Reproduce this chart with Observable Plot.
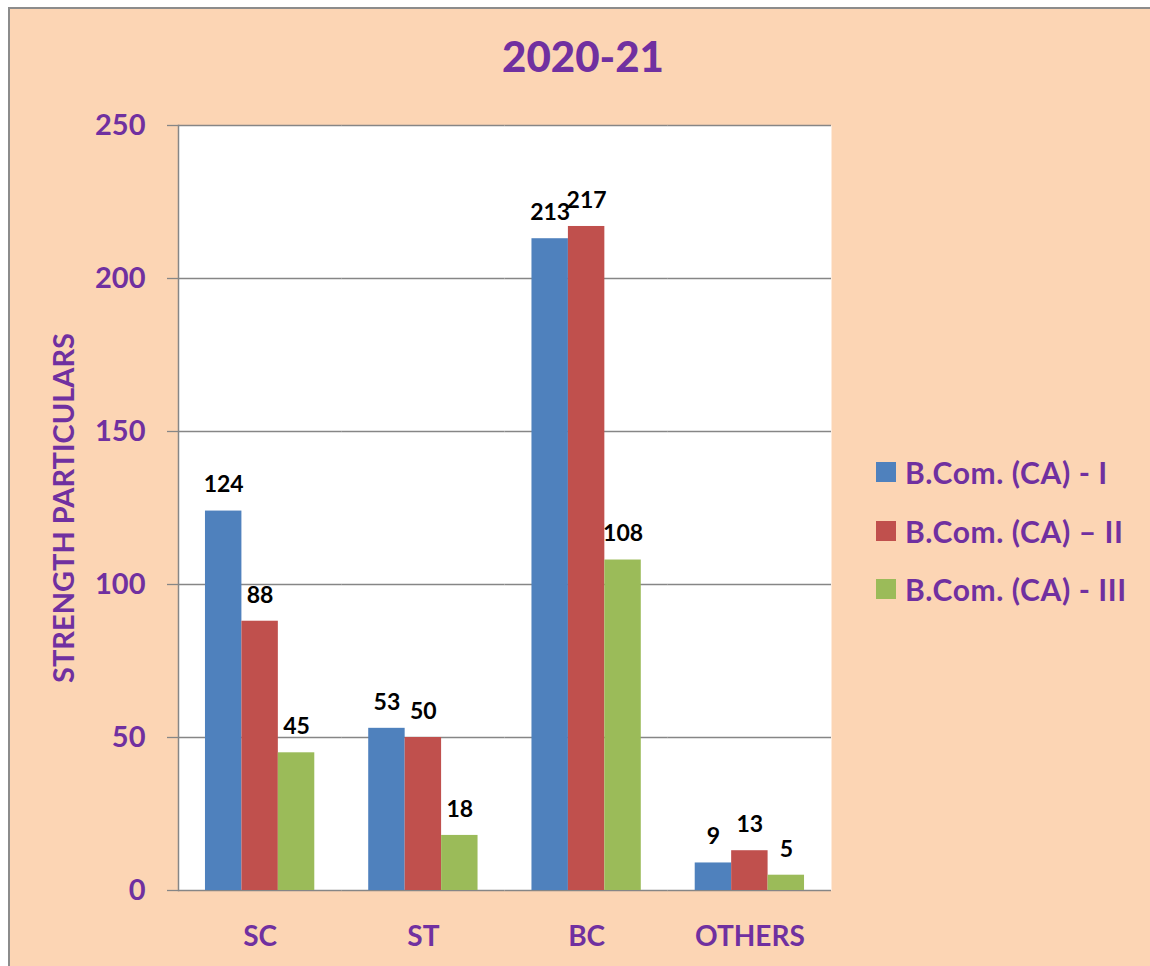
<!DOCTYPE html>
<html>
<head>
<meta charset="utf-8">
<script src="https://cdn.jsdelivr.net/npm/d3@7"></script>
<script src="https://cdn.jsdelivr.net/npm/@observablehq/plot@0.6"></script>
<style>
  html, body { margin: 0; padding: 0; width: 1150px; height: 966px; overflow: hidden; background: #fff; }
  #panel { position: absolute; left: 8px; top: 7px; width: 1160px; height: 980px;
           background: #FCD5B4; border-left: 2px solid #8c8c8c; border-top: 2px solid #8c8c8c; box-sizing: border-box; }
  #chart { position: absolute; left: 0; top: 0; }
  #title { position: absolute; left: 8px; width: 1150px; top: 28px; text-align: center;
           font-family: Lato, sans-serif; font-weight: 900; font-size: 42px; color: #7030A0; line-height: 56px; }
  #legend { position: absolute; left: 876px; top: 443px; font-family: Lato, sans-serif; font-weight: bold;
            font-size: 30px; letter-spacing: 0.6px; color: #7030A0; }
  #legend .item { display: flex; align-items: center; height: 58.5px; white-space: nowrap; }
  #legend .sw { width: 20px; height: 20px; margin-right: 9px; flex: none; }
</style>
</head>
<body>
<div id="panel"></div>
<div id="chart"></div>
<div id="title">2020-21</div>
<div id="legend"></div>
<script>
const categories = ["SC", "ST", "BC", "OTHERS"];
const series = ["B.Com. (CA) - I", "B.Com. (CA) – II", "B.Com. (CA) - III"];
const valuesI = [124, 53, 213, 9];
const valuesII = [88, 50, 217, 13];
const valuesIII = [45, 18, 108, 5];
const yTicks = [0, 50, 100, 150, 200, 250];
const colors = ["#4F81BD", "#C0504D", "#9BBB59"];

const seriesValues = [valuesI, valuesII, valuesIII];
const data = categories.flatMap((c, i) =>
  seriesValues.map((arr, j) => ({cat: c, series: series[j], value: arr[i]})));

const purple = "#7030A0";
const gray = "#868686";

const plot = Plot.plot({
  width: 1150,
  height: 966,
  marginLeft: 178,
  marginRight: 319,
  marginTop: 125,
  marginBottom: 76,
  style: {background: "transparent", fontFamily: "Lato, sans-serif", overflow: "visible"},
  fx: {domain: categories, padding: 0, label: null, axis: null, round: false},
  x: {domain: series, paddingInner: 0, paddingOuter: 0.74, axis: null, round: false},
  y: {domain: [0, 250], label: null},
  color: {domain: series, range: colors},
  marks: [
    Plot.frame({fill: "white", stroke: "none", facet: "super"}),
    Plot.gridY(yTicks, {stroke: gray, strokeOpacity: 1, strokeWidth: 1.3}),
    Plot.barY(data, {fx: "cat", x: "series", y: "value", fill: "series"}),
    Plot.text(data, {fx: "cat", x: "series", y: "value", text: "value", dy: -26,
      fontSize: 23, fontWeight: "bold", fill: "black"}),
    Plot.axisY(yTicks, {tickSize: 11, tickPadding: 22, stroke: gray, strokeWidth: 1.3, fill: purple,
      fontSize: 29, fontWeight: "bold", label: null}),
    Plot.axisY({ticks: [], tickSize: 0, label: "STRENGTH PARTICULARS", labelAnchor: "center",
      labelOffset: 125, labelArrow: "none", fill: purple, fontSize: 29, fontWeight: "bold"}),
    Plot.axisFx({anchor: "bottom", tickSize: 0, tickPadding: 36, fontSize: 28, fontWeight: "bold", fill: purple, label: null}),
    Plot.frame({anchor: "left", stroke: gray, strokeWidth: 1.5, facet: "super"})
  ]
});
document.getElementById("chart").appendChild(plot);

const legend = document.getElementById("legend");
series.forEach((s, j) => {
  const item = document.createElement("div");
  item.className = "item";
  const sw = document.createElement("div");
  sw.className = "sw";
  sw.style.background = colors[j];
  const lab = document.createElement("span");
  lab.textContent = s;
  item.appendChild(sw);
  item.appendChild(lab);
  legend.appendChild(item);
});
</script>
</body>
</html>
